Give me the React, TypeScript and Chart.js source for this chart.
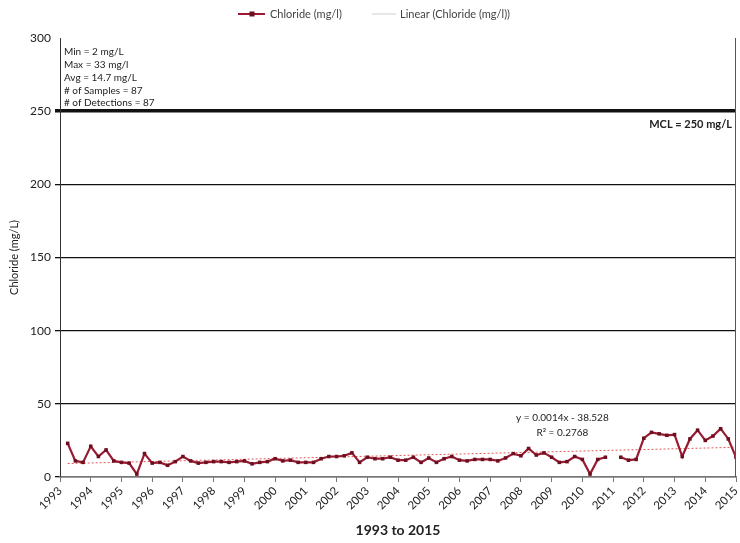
import React, { useEffect, useRef } from "react";
import { Chart, registerables } from "chart.js";

Chart.register(...registerables);

const sampleDates: number[] = [
  1993.25, 1993.5, 1993.75,
  1994.0, 1994.25, 1994.5, 1994.75,
  1995.0, 1995.25, 1995.5, 1995.75,
  1996.0, 1996.25, 1996.5, 1996.75,
  1997.0, 1997.25, 1997.5, 1997.75,
  1998.0, 1998.25, 1998.5, 1998.75,
  1999.0, 1999.25, 1999.5, 1999.75,
  2000.0, 2000.25, 2000.5, 2000.75,
  2001.0, 2001.25, 2001.5, 2001.75,
  2002.0, 2002.25, 2002.5, 2002.75,
  2003.0, 2003.25, 2003.5, 2003.75,
  2004.0, 2004.25, 2004.5, 2004.75,
  2005.0, 2005.25, 2005.5, 2005.75,
  2006.0, 2006.25, 2006.5, 2006.75,
  2007.0, 2007.25, 2007.5, 2007.75,
  2008.0, 2008.25, 2008.5, 2008.75,
  2009.0, 2009.25, 2009.5, 2009.75,
  2010.0, 2010.25, 2010.5, 2010.75,
  2011.0, 2011.25, 2011.5, 2011.75,
  2012.0, 2012.25, 2012.5, 2012.75,
  2013.0, 2013.25, 2013.5, 2013.75,
  2014.0, 2014.25, 2014.5, 2014.75,
  2015.0,
];

const chlorideValues: (number | null)[] = [
  23, 11, 10,
  21, 14, 18.5, 11,
  10, 9.5, 2, 16,
  9.5, 10, 8, 10.5,
  14, 11, 9.5, 10,
  10.5, 10.5, 10, 10.5,
  11, 9, 10, 10.5,
  12.5, 11, 11.5, 10,
  10, 10, 12.5, 14,
  14, 14.5, 16.5, 10,
  13.5, 12.5, 12.5, 13.5,
  11.5, 11.5, 13.5, 10,
  13, 10, 12.5, 14,
  11.5, 11, 12, 12,
  12, 11, 13, 16,
  14.5, 19.5, 15, 16.5,
  13.5, 10, 10.5, 14,
  12, 2, 12, 13.5,
  null, 13.5, 11.5, 12,
  26.5, 30.5, 29.5, 28.5,
  29, 14, 26, 32,
  25, 28, 33, 26,
  13.5,
];

const trendDates: number[] = [1993.25, 2015.0];
const trendValues: number[] = [9.2, 20.3];

const yTicks: number[] = [0, 50, 100, 150, 200, 250, 300];
const mclValue = 250;

const statLines: string[] = [
  "Min = 2 mg/L",
  "Max = 33 mg/l",
  "Avg = 14.7 mg/L",
  "# of Samples = 87",
  "# of Detections = 87",
];
const equationLines: string[] = ["y = 0.0014x - 38.528", "R\u00B2 = 0.2768"];
const mclLabel = "MCL = 250 mg/L";
const seriesLabel = "Chloride (mg/l)";
const trendLabel = "Linear (Chloride (mg/l))";
const xTitle = "1993 to 2015";
const yTitle = "Chloride (mg/L)";

const FONT = "Lato, 'Open Sans', sans-serif";
const LINE_COLOR = "#981b32";
const POINT_COLOR = "#6e0f20";
const TREND_COLOR = "#e05a5a";
const TEXT = "#222";

const overlayPlugin = {
  id: "overlay",
  afterDraw(chart: any) {
    const { ctx, chartArea, scales } = chart;
    const x = scales.x;
    const y = scales.y;
    ctx.save();

    // right border
    ctx.strokeStyle = "#555";
    ctx.lineWidth = 1;
    ctx.beginPath();
    ctx.moveTo(chartArea.right - 0.5, y.getPixelForValue(300));
    ctx.lineTo(chartArea.right - 0.5, y.getPixelForValue(0));
    ctx.stroke();

    // legend
    const ly = 14;
    ctx.strokeStyle = LINE_COLOR;
    ctx.lineWidth = 2;
    ctx.beginPath();
    ctx.moveTo(238, ly);
    ctx.lineTo(265, ly);
    ctx.stroke();
    ctx.fillStyle = POINT_COLOR;
    ctx.fillRect(249.5, ly - 2.5, 5, 5);
    ctx.font = `11px ${FONT}`;
    ctx.fillStyle = "#444";
    ctx.textBaseline = "middle";
    ctx.textAlign = "left";
    ctx.fillText(seriesLabel, 270, ly);
    ctx.strokeStyle = "#cfcfcf";
    ctx.lineWidth = 1;
    ctx.beginPath();
    ctx.moveTo(372, ly);
    ctx.lineTo(396, ly);
    ctx.stroke();
    ctx.fillText(trendLabel, 400, ly);

    // stats box text
    ctx.fillStyle = TEXT;
    ctx.font = `10px ${FONT}`;
    statLines.forEach((t, i) => {
      ctx.fillText(t, chartArea.left + 4, 52 + i * 12.8);
    });

    // MCL label
    ctx.font = `bold 11px ${FONT}`;
    ctx.textAlign = "right";
    ctx.fillText(mclLabel, chartArea.right - 4, y.getPixelForValue(mclValue) + 13);

    // equation
    ctx.font = `10px ${FONT}`;
    ctx.textAlign = "center";
    const ex = x.getPixelForValue(2009.35);
    ctx.fillText(equationLines[0], ex, y.getPixelForValue(40.5));
    ctx.fillText(equationLines[1], ex, y.getPixelForValue(30.5));

    ctx.restore();
  },
};

export default function App() {
  const ref = useRef<HTMLCanvasElement | null>(null);

  useEffect(() => {
    document.body.style.margin = "0";
    const canvas = ref.current;
    if (!canvas) return;
    const chart = new Chart(canvas, {
      type: "line",
      data: {
        datasets: [
          {
            label: seriesLabel,
            data: sampleDates.map((d, i) => ({ x: d, y: chlorideValues[i] as any })),
            borderColor: LINE_COLOR,
            backgroundColor: POINT_COLOR,
            borderWidth: 2.2,
            pointRadius: 2.5,
            pointStyle: "rect",
            pointBackgroundColor: POINT_COLOR,
            pointBorderColor: POINT_COLOR,
            pointBorderWidth: 0,
            spanGaps: false,
            tension: 0,
            order: 1,
          },
          {
            label: trendLabel,
            data: trendDates.map((d, i) => ({ x: d, y: trendValues[i] })),
            borderColor: TREND_COLOR,
            borderWidth: 1,
            borderDash: [2, 2],
            pointRadius: 0,
            tension: 0,
            order: 2,
          },
        ],
      },
      options: {
        responsive: false,
        animation: false,
        devicePixelRatio: 1,
        layout: { padding: { top: 38, left: 8, right: 2, bottom: 0 } },
        plugins: {
          legend: { display: false },
          tooltip: { enabled: false },
        },
        scales: {
          x: {
            type: "linear",
            min: 1993,
            max: 2015,
            afterFit: (s: any) => {
              s.height = 66;
              s.paddingLeft = 0;
              s.paddingRight = 0;
            },
            afterBuildTicks: (s: any) => {
              const t = [];
              for (let v = 1993; v <= 2015; v++) t.push({ value: v });
              s.ticks = t;
            },
            ticks: {
              minRotation: 45,
              maxRotation: 45,
              autoSkip: false,
              color: TEXT,
              font: { family: FONT, size: 11.5 },
              padding: 2,
              callback: (v: any) => String(v),
            },
            grid: {
              drawOnChartArea: false,
              drawTicks: true,
              tickLength: 5,
              color: "#777",
              lineWidth: 1,
            },
            border: { color: "#777", width: 1.5 },
            title: {
              display: true,
              text: xTitle,
              color: TEXT,
              font: { family: FONT, size: 14, weight: "bold" },
              padding: { top: 0, bottom: 4 },
            },
          },
          y: {
            min: 0,
            max: 300,
            afterFit: (s: any) => {
              s.width = 52;
              s.paddingTop = 0;
              s.paddingBottom = 0;
            },
            afterBuildTicks: (s: any) => {
              s.ticks = yTicks.map((v) => ({ value: v }));
            },
            ticks: {
              color: TEXT,
              font: { family: FONT, size: 12 },
              padding: 4,
            },
            grid: {
              color: (c: any) => (c.tick && c.tick.value === 300 ? "rgba(0,0,0,0)" : "#111"),
              lineWidth: (c: any) => (c.tick && c.tick.value === mclValue ? 3.5 : 1.3),
              drawTicks: true,
              tickLength: 5,
            },
            border: { color: "#333", width: 1 },
            title: {
              display: true,
              text: yTitle,
              color: TEXT,
              font: { family: FONT, size: 11 },
              padding: { top: 0, bottom: 2 },
            },
          },
        },
      } as any,
      plugins: [overlayPlugin],
    });
    return () => chart.destroy();
  }, []);

  return <canvas ref={ref} width={740} height={543} style={{ display: "block" }} />;
}
